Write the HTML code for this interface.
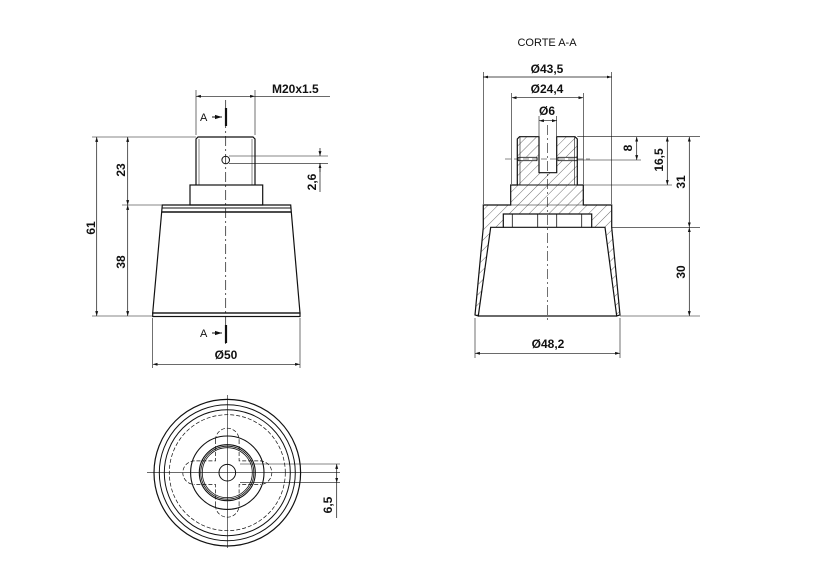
<!DOCTYPE html>
<html><head><meta charset="utf-8"><style>
html,body{margin:0;padding:0;background:#fff;}
svg{display:block;}
text{font-family:"Liberation Sans",sans-serif;font-weight:bold;font-size:12px;fill:#111;}
</style></head><body>
<svg width="827" height="583" viewBox="0 0 827 583" xmlns="http://www.w3.org/2000/svg">
<defs>
<marker id="ar" viewBox="0 0 10 10" refX="10" refY="5" markerWidth="7" markerHeight="7" orient="auto-start-reverse"><path d="M0,2 L10,5 L0,8 z" fill="#111"/></marker>
<pattern id="h" width="7" height="7" patternUnits="userSpaceOnUse" patternTransform="rotate(45)"><line x1="0" y1="0" x2="0" y2="7" stroke="#333" stroke-width="0.7"/></pattern>
</defs>
<g stroke="#111" fill="none" stroke-width="1">
<!-- FRONT VIEW -->
<path d="M196,185 L196,139 L198,137 L253,137 L255,139 L255,185" stroke-width="1.2"/>
<line x1="199" y1="139" x2="199" y2="185" stroke-width="0.5"/>
<line x1="252" y1="139" x2="252" y2="185" stroke-width="0.5"/>
<rect x="190" y="185" width="72.7" height="20" stroke-width="1.2"/>
<path d="M162.3,205 L290.7,205 L300,313 L152.7,313 Z" stroke-width="1.2"/>
<line x1="162" y1="208" x2="291" y2="208"/>
<line x1="162" y1="212" x2="291" y2="212" stroke-width="1.5"/>
<rect x="152.7" y="313" width="147.3" height="3.5" stroke-width="1.2"/>
<circle cx="225.7" cy="160" r="3.8"/>
<line x1="225.7" y1="100" x2="225.7" y2="345" stroke-dasharray="10,3,2,3" stroke-width="0.7"/>
<!-- A markers -->
<line x1="226" y1="108" x2="226" y2="126" stroke-width="2.2"/>
<line x1="212" y1="117" x2="222" y2="117" marker-end="url(#ar)"/>
<line x1="226" y1="325" x2="226" y2="343" stroke-width="2.2"/>
<line x1="212" y1="333" x2="222" y2="333" marker-end="url(#ar)"/>
<!-- dims front -->
<line x1="196" y1="90" x2="196" y2="135" stroke-width="0.6"/>
<line x1="255" y1="90" x2="255" y2="135" stroke-width="0.6"/>
<line x1="196" y1="96.3" x2="255" y2="96.3" stroke-width="0.7" marker-start="url(#ar)" marker-end="url(#ar)"/>
<line x1="255" y1="96.3" x2="330" y2="96.3" stroke-width="0.7"/>
<line x1="92" y1="137" x2="196" y2="137" stroke-width="0.6"/>
<line x1="122" y1="205" x2="162" y2="205" stroke-width="0.6"/>
<line x1="92" y1="316" x2="152" y2="316" stroke-width="0.6"/>
<line x1="96.7" y1="137" x2="96.7" y2="316" stroke-width="0.7" marker-start="url(#ar)" marker-end="url(#ar)"/>
<line x1="127.7" y1="137" x2="127.7" y2="205" stroke-width="0.7" marker-start="url(#ar)" marker-end="url(#ar)"/>
<line x1="127.7" y1="205" x2="127.7" y2="316" stroke-width="0.7" marker-start="url(#ar)" marker-end="url(#ar)"/>
<line x1="229" y1="156" x2="328" y2="156" stroke-width="0.6"/>
<line x1="229" y1="163.3" x2="328" y2="163.3" stroke-width="0.6"/>
<line x1="320" y1="148" x2="320" y2="156" stroke-width="0.7" marker-end="url(#ar)"/>
<line x1="320" y1="172" x2="320" y2="163.3" stroke-width="0.7" marker-end="url(#ar)"/>
<line x1="320" y1="163.3" x2="320" y2="192" stroke-width="0.7"/>
<line x1="152.7" y1="318" x2="152.7" y2="368" stroke-width="0.6"/>
<line x1="300" y1="318" x2="300" y2="368" stroke-width="0.6"/>
<line x1="152.7" y1="364.3" x2="300" y2="364.3" stroke-width="0.7" marker-start="url(#ar)" marker-end="url(#ar)"/>

<!-- SECTION VIEW -->
<path d="M517.3,185 L517.3,139 L519.5,136.7 L539,136.7 L539,172.7 L556.7,172.7 L556.7,136.7 L575,136.7 L577.3,139 L577.3,185 L583.3,185 L583.3,205 L611.7,205 L611.7,227.3 L620,315 L616.7,316 L605,227.3 L591.7,227.3 L591.7,214 L503.3,214 L503.3,227.3 L490.7,227.3 L478.3,316 L475,315 L483.3,227.3 L483.3,205 L510.7,205 L510.7,185 Z" fill="url(#h)" stroke-width="1.2"/>
<rect x="518" y="157.3" width="19" height="3.4" fill="#fff" stroke-width="0.8"/>
<rect x="558" y="157.3" width="19" height="3.4" fill="#fff" stroke-width="0.8"/>
<line x1="517.3" y1="185" x2="577.3" y2="185"/>
<line x1="510.7" y1="205" x2="583.3" y2="205" stroke-width="0.6"/>
<line x1="520" y1="137" x2="520" y2="185" stroke-width="0.6"/>
<line x1="574.6" y1="137" x2="574.6" y2="185" stroke-width="0.6"/>
<line x1="478.3" y1="316" x2="616.7" y2="316" stroke-width="1.2"/>
<line x1="503.3" y1="227.3" x2="591.7" y2="227.3" stroke-width="1.2"/>
<line x1="512.3" y1="214" x2="512.3" y2="227.3" stroke-width="0.8"/>
<line x1="537.7" y1="214" x2="537.7" y2="227.3" stroke-width="0.8"/>
<line x1="556.7" y1="214" x2="556.7" y2="227.3" stroke-width="0.8"/>
<line x1="581.7" y1="214" x2="581.7" y2="227.3" stroke-width="0.8"/>
<line x1="547.3" y1="125" x2="547.3" y2="320" stroke-width="0.6" stroke-dasharray="10,3,2,3"/>
<line x1="505" y1="159" x2="590" y2="159" stroke-width="0.5" stroke-dasharray="6,3"/>
<!-- section dims -->
<line x1="483.3" y1="72" x2="483.3" y2="204" stroke-width="0.6"/>
<line x1="611.7" y1="72" x2="611.7" y2="204" stroke-width="0.6"/>
<line x1="483.3" y1="77" x2="611.7" y2="77" stroke-width="0.7" marker-start="url(#ar)" marker-end="url(#ar)"/>
<line x1="511.7" y1="93" x2="511.7" y2="184" stroke-width="0.6"/>
<line x1="583.3" y1="93" x2="583.3" y2="184" stroke-width="0.6"/>
<line x1="511.7" y1="97.7" x2="583.3" y2="97.7" stroke-width="0.7" marker-start="url(#ar)" marker-end="url(#ar)"/>
<line x1="539" y1="116" x2="539" y2="136" stroke-width="0.6"/>
<line x1="556.7" y1="116" x2="556.7" y2="136" stroke-width="0.6"/>
<line x1="539" y1="120.7" x2="556.7" y2="120.7" stroke-width="0.7" marker-start="url(#ar)" marker-end="url(#ar)"/>
<line x1="577.3" y1="136.7" x2="700" y2="136.7" stroke-width="0.6"/>
<line x1="577" y1="160" x2="641" y2="160" stroke-width="0.6"/>
<line x1="583.3" y1="185" x2="672" y2="185" stroke-width="0.6"/>
<line x1="611.7" y1="227.3" x2="700" y2="227.3" stroke-width="0.6"/>
<line x1="620" y1="316" x2="700" y2="316" stroke-width="0.6"/>
<line x1="636.7" y1="136.7" x2="636.7" y2="160" stroke-width="0.7" marker-start="url(#ar)" marker-end="url(#ar)"/>
<line x1="667.3" y1="136.7" x2="667.3" y2="185" stroke-width="0.7" marker-start="url(#ar)" marker-end="url(#ar)"/>
<line x1="689.3" y1="136.7" x2="689.3" y2="227.3" stroke-width="0.7" marker-start="url(#ar)" marker-end="url(#ar)"/>
<line x1="689.3" y1="227.3" x2="689.3" y2="316" stroke-width="0.7" marker-start="url(#ar)" marker-end="url(#ar)"/>
<line x1="475" y1="318" x2="475" y2="358" stroke-width="0.6"/>
<line x1="620" y1="318" x2="620" y2="358" stroke-width="0.6"/>
<line x1="475" y1="353.3" x2="620" y2="353.3" stroke-width="0.7" marker-start="url(#ar)" marker-end="url(#ar)"/>

<!-- BOTTOM VIEW -->
<circle cx="227.3" cy="472.7" r="73.3" stroke-width="1.2"/>
<circle cx="227.3" cy="472.7" r="68"/>
<circle cx="227.3" cy="472.7" r="63"/>
<circle cx="227.3" cy="472.7" r="58" stroke-dasharray="4,2" stroke-width="0.7"/>
<circle cx="227.3" cy="472.7" r="36.7" stroke-width="1.1"/>
<circle cx="227.3" cy="472.7" r="28" stroke-width="1.1"/>
<circle cx="227.3" cy="472.7" r="26.5" stroke-width="0.8"/>
<circle cx="227.3" cy="472.7" r="25" stroke-width="0.8"/>
<circle cx="227.3" cy="472.7" r="8.3"/>
<g stroke-dasharray="4,2" stroke-width="0.7">
<path d="M215.5,440 A11.8,11.8 0 0 1 239.1,440"/>
<path d="M215.5,505.4 A11.8,11.8 0 0 0 239.1,505.4"/>
<path d="M194.6,460.9 A11.8,11.8 0 0 0 194.6,484.5"/>
<path d="M260,460.9 A11.8,11.8 0 0 1 260,484.5"/>
<path d="M215.5,440 L215.5,460.9 L194.6,460.9 M239.1,440 L239.1,460.9 L260,460.9 M215.5,505.4 L215.5,484.5 L194.6,484.5 M239.1,505.4 L239.1,484.5 L260,484.5"/>
</g>
<line x1="147" y1="472.7" x2="340" y2="472.7" stroke-width="0.6"/>
<line x1="227.3" y1="395" x2="227.3" y2="548" stroke-width="0.6"/>
<line x1="240" y1="464" x2="340" y2="464" stroke-width="0.6"/>
<line x1="240" y1="482.7" x2="340" y2="482.7" stroke-width="0.6"/>
<line x1="336.7" y1="464" x2="336.7" y2="482.7" stroke-width="0.7" marker-start="url(#ar)" marker-end="url(#ar)"/>
<line x1="336.7" y1="482.7" x2="336.7" y2="518" stroke-width="0.7"/>
</g>
<!-- TEXT -->
<text x="272" y="93">M20x1.5</text>
<text x="200" y="121" style="font-weight:normal;font-size:11px">A</text>
<text x="200" y="337" style="font-weight:normal;font-size:11px">A</text>
<text x="226" y="359" text-anchor="middle">Ø50</text>
<text transform="translate(95,228) rotate(-90)" text-anchor="middle">61</text>
<text transform="translate(125,170) rotate(-90)" text-anchor="middle">23</text>
<text transform="translate(125,262) rotate(-90)" text-anchor="middle">38</text>
<text transform="translate(316,182) rotate(-90)" text-anchor="middle">2,6</text>
<text x="547" y="46" text-anchor="middle" style="font-weight:normal;font-size:11px">CORTE A-A</text>
<text x="547" y="73" text-anchor="middle">Ø43,5</text>
<text x="547" y="93" text-anchor="middle">Ø24,4</text>
<text x="547" y="115" text-anchor="middle">Ø6</text>
<text transform="translate(632,148) rotate(-90)" text-anchor="middle">8</text>
<text transform="translate(663,160) rotate(-90)" text-anchor="middle">16,5</text>
<text transform="translate(685,182) rotate(-90)" text-anchor="middle">31</text>
<text transform="translate(685,272) rotate(-90)" text-anchor="middle">30</text>
<text x="548" y="348" text-anchor="middle">Ø48,2</text>
<text transform="translate(332,505) rotate(-90)" text-anchor="middle">6,5</text>
</svg>
</body></html>
